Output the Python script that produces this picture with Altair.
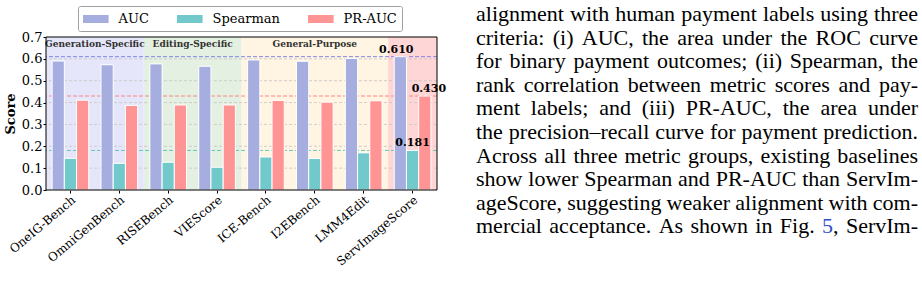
import altair as alt
import pandas as pd

# ---------------- data ----------------
models = ["OneIG-Bench", "OmniGenBench", "RISEBench", "VIEScore",
          "ICE-Bench", "I2EBench", "LMM4Edit", "ServImageScore"]
metrics = ["AUC", "Spearman", "PR-AUC"]
auc = [0.590, 0.573, 0.577, 0.566, 0.595, 0.589, 0.602, 0.610]
spearman = [0.145, 0.122, 0.127, 0.104, 0.151, 0.144, 0.170, 0.181]
prauc = [0.411, 0.387, 0.389, 0.389, 0.410, 0.402, 0.408, 0.430]
metric_colors = ["#A6AEDF", "#72C9CC", "#FF9494"]

region_names = ["Generation-Specific", "Editing-Specific", "General-Purpose", ""]
region_first = [0, 2, 4, 7]
region_last = [1, 3, 6, 7]
region_colors = ["#E6E6FA", "#E4F0E2", "#FFF5E2", "#FFD6D6"]

ref_metric = ["AUC", "Spearman", "PR-AUC"]
ref_values = [0.610, 0.181, 0.430]
ref_colors = ["#6F74E6", "#4DBFB5", "#FF7373"]

y_ticks = [0.0, 0.1, 0.2, 0.3, 0.4, 0.5, 0.6, 0.7]
grid_values = [0.1, 0.2, 0.3, 0.4, 0.5, 0.6]

paragraph = [
    "alignment with human payment labels using three",
    "criteria: (i) AUC, the area under the ROC curve",
    "for binary payment outcomes; (ii) Spearman, the",
    "rank correlation between metric scores and pay-",
    "ment labels; and (iii) PR-AUC, the area under",
    "the precision\u2013recall curve for payment prediction.",
    "Across all three metric groups, existing baselines",
    "show lower Spearman and PR-AUC than ServIm-",
    "ageScore, suggesting weaker alignment with com-",
    "mercial acceptance. As shown in Fig. 5, ServIm-",
]
link_words = ["5"]

# ---------------- layout ----------------
W, H = 391, 153
PAD_L, PAD_T = 46, 37
TOTAL_W, TOTAL_H = 922, 284
SERIF = "DejaVu Serif"
Y_SCALE = alt.Scale(domain=[0, 0.7], nice=False, zero=True)
X_SCALE = alt.Scale(domain=models, paddingInner=0, paddingOuter=0)
XO_SCALE = alt.Scale(domain=metrics, paddingInner=0, paddingOuter=0.5)
Q_SCALE = alt.Scale(domain=[-0.5, 7.5], nice=False, zero=False)

bar_df = pd.DataFrame({
    "model": models * 3,
    "metric": [m for m in metrics for _ in models],
    "value": auc + spearman + prauc,
})

bg_df = pd.DataFrame({
    "name": region_names,
    "lo": [f - 0.5 for f in region_first],
    "hi": [l + 0.5 for l in region_last],
    "mid": [(f + l) / 2 for f, l in zip(region_first, region_last)],
    "col": region_colors,
})

bg = alt.Chart(bg_df).mark_rect().encode(
    x=alt.X("lo:Q", scale=Q_SCALE, axis=None),
    x2="hi:Q",
    y=alt.value(0), y2=alt.value(H),
    color=alt.Color("col:N", scale=None),
)

group_text = alt.Chart(bg_df).mark_text(
    font=SERIF, fontSize=9, fontWeight="bold", color="#333333",
    baseline="middle", align="center",
).encode(
    x=alt.X("mid:Q", scale=Q_SCALE, axis=None),
    y=alt.value(7),
    text="name:N",
)

grid = alt.Chart(pd.DataFrame({"v": grid_values})).mark_rule(
    strokeDash=[3, 2], color="#c4c4c4", strokeWidth=0.8
).encode(y=alt.Y("v:Q", scale=Y_SCALE, axis=None))

ref_df = pd.DataFrame({"metric": ref_metric, "v": ref_values, "col": ref_colors})
refs = alt.Chart(ref_df).mark_rule(strokeDash=[4, 2], strokeWidth=1, opacity=0.85).encode(
    y=alt.Y("v:Q", scale=Y_SCALE, axis=None),
    color=alt.Color("col:N", scale=None),
)

bars = alt.Chart(bar_df).mark_bar(stroke="white", strokeWidth=1).encode(
    x=alt.X("model:N", sort=models, scale=X_SCALE,
            axis=alt.Axis(title=None, labelAngle=-40, labelAlign="right",
                          labelBaseline="top", labelFont=SERIF, labelFontSize=12,
                          labelColor="black", tickColor="black", tickSize=3,
                          labelPadding=1, domain=False)),
    xOffset=alt.XOffset("metric:N", sort=metrics, scale=XO_SCALE),
    y=alt.Y("value:Q", scale=Y_SCALE,
            axis=alt.Axis(values=y_ticks, format=".1f", grid=False, domain=False,
                          labelFont=SERIF, labelFontSize=13, labelColor="black",
                          tickColor="black", tickSize=3, labelPadding=1,
                          title="Score", titleFont=SERIF, titleFontSize=13,
                          titleFontWeight="bold", titleColor="black", titlePadding=4)),
    color=alt.Color("metric:N", sort=metrics,
                    scale=alt.Scale(domain=metrics, range=metric_colors),
                    legend=alt.Legend(
                        orient="none", legendX=32, legendY=-31, direction="horizontal",
                        title=None,
                        symbolType="M-1,-0.5L2.2,-0.5L2.2,0.5L-1,0.5Z",
                        symbolSize=256, symbolStrokeWidth=0, symbolOpacity=1,
                        labelFont=SERIF, labelFontSize=13, labelColor="black",
                        labelOffset=19.6, columnPadding=28, padding=5,
                        strokeColor="#a0a0a0", fillColor="white", cornerRadius=2)),
)

lab_df = bar_df[bar_df["model"] == "ServImageScore"].copy()
lab_df["label"] = lab_df["value"].map(lambda v: f"{v:.3f}")
labels = alt.Chart(lab_df).mark_text(
    font=SERIF, fontSize=11, fontWeight="bold", color="black",
    baseline="alphabetic", align="center", dy=-4,
).encode(
    x=alt.X("model:N", sort=models, scale=X_SCALE, axis=None),
    xOffset=alt.XOffset("metric:N", sort=metrics, scale=XO_SCALE),
    y=alt.Y("value:Q", scale=Y_SCALE, axis=None),
    text="label:N",
)

frame = alt.Chart(pd.DataFrame({"a": [0]})).mark_rect(
    fillOpacity=0, stroke="black", strokeWidth=1
).encode(x=alt.value(0), x2=alt.value(W), y=alt.value(0), y2=alt.value(H))

# ---------------- paragraph (justified, Times metrics) ----------------
TIMES = {
    " ": 250, "(": 333, ")": 333, ",": 250, "-": 333, ".": 250, ":": 278, ";": 278,
    "5": 500, "\u2013": 500,
    "A": 722, "C": 667, "F": 556, "I": 333, "O": 722, "P": 556, "R": 667,
    "S": 556, "U": 722,
    "a": 444, "b": 500, "c": 444, "d": 500, "e": 444, "f": 333, "g": 500,
    "h": 500, "i": 278, "j": 278, "k": 500, "l": 278, "m": 778, "n": 500,
    "o": 500, "p": 500, "q": 500, "r": 333, "s": 389, "t": 278, "u": 500,
    "v": 500, "w": 722, "x": 500, "y": 500, "z": 444,
}
FS = 22
TEXT_X0, TEXT_X1 = 476, 918
BASE0, LEAD = 21, 23.6


def tw(s):
    return sum(TIMES.get(ch, 500) for ch in s) * FS / 1000.0


rows = []
for i, line in enumerate(paragraph):
    words = line.split()
    widths = [tw(w) for w in words]
    gap = (TEXT_X1 - TEXT_X0 - sum(widths)) / (len(words) - 1)
    x = TEXT_X0
    y = BASE0 + i * LEAD
    for w, wd in zip(words, widths):
        core = w.rstrip(",.")
        if core in link_words:
            rows.append({"t": core, "px": x - PAD_L, "py": y - PAD_T, "col": "#2F4FC8"})
            rest = w[len(core):]
            if rest:
                rows.append({"t": rest, "px": x + tw(core) - PAD_L, "py": y - PAD_T, "col": "black"})
        else:
            rows.append({"t": w, "px": x - PAD_L, "py": y - PAD_T, "col": "black"})
        x += wd + gap

text_df = pd.DataFrame(rows)
para = alt.Chart(text_df).mark_text(
    font="Liberation Serif", fontSize=FS, align="left", baseline="alphabetic"
).encode(
    x=alt.X("px:Q", scale=None, axis=None),
    y=alt.Y("py:Q", scale=None, axis=None),
    color=alt.Color("col:N", scale=None),
    text="t:N",
)

chart = alt.layer(bg, grid, refs, bars, labels, group_text, frame, para).resolve_scale(
    x="independent", y="independent", color="independent", xOffset="independent"
).properties(
    width=W, height=H,
    autosize=alt.AutoSizeParams(type="none"),
    padding={"left": PAD_L, "top": PAD_T, "right": TOTAL_W - PAD_L - W,
             "bottom": TOTAL_H - PAD_T - H},
    background="white",
).configure(
    font=SERIF
).configure_view(
    strokeWidth=0
).configure_axis(
    labelFont=SERIF, titleFont=SERIF
).configure_legend(
    labelFont=SERIF, titleFont=SERIF
)

chart.save("out.html", embed_options={"renderer": "svg", "actions": False})
